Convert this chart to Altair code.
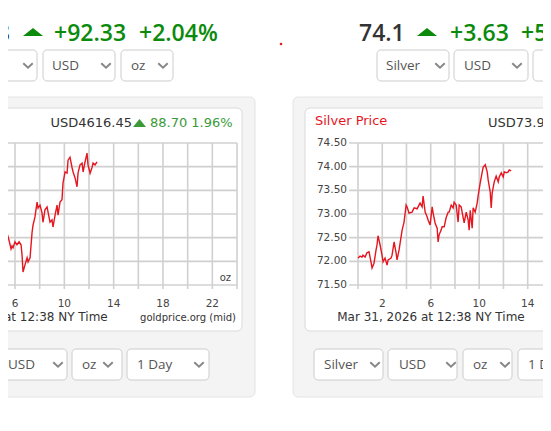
import altair as alt
import pandas as pd

# ---------------- data ----------------
gold_hours = [4.79, 5.03, 5.27, 5.35, 5.51, 5.68, 5.76, 5.84, 6.00, 6.16, 6.33, 6.49,
              6.57, 6.65, 6.81, 6.98, 7.06, 7.22, 7.38, 7.46, 7.62, 7.79, 7.87, 8.03,
              8.19, 8.27, 8.43, 8.60, 8.68, 8.84, 9.00, 9.08, 9.25, 9.41, 9.49, 9.65,
              9.81, 9.89, 10.06, 10.22, 10.30, 10.46, 10.62, 10.71, 10.87, 11.03, 11.11,
              11.27, 11.44, 11.52, 11.68, 11.84, 11.92, 12.09, 12.25, 12.33, 12.49, 12.65]
gold_prices = [4511, 4508, 4506, 4498, 4486, 4471, 4476, 4473, 4483, 4478, 4483, 4478,
               4461, 4432, 4444, 4456, 4449, 4456, 4498, 4511, 4525, 4550, 4540, 4545,
               4532, 4516, 4537, 4542, 4533, 4516, 4520, 4508, 4528, 4545, 4528, 4550,
               4554, 4582, 4601, 4599, 4621, 4626, 4609, 4601, 4591, 4576, 4599,
               4613, 4616, 4601, 4618, 4633, 4613, 4599, 4609, 4616, 4613, 4618]

silver_hours = [0.00, 0.17, 0.33, 0.41, 0.58, 0.74, 0.91, 1.07, 1.16, 1.32, 1.49, 1.57,
                1.65, 1.82, 1.98, 2.07, 2.23, 2.40, 2.48, 2.73, 2.81, 2.98, 3.14, 3.22,
                3.39, 3.55, 3.64, 3.80, 3.97, 4.05, 4.21, 4.46, 4.63, 4.88, 4.96, 5.12,
                5.29, 5.37, 5.54, 5.70, 5.79, 5.95, 6.12, 6.20, 6.36, 6.53, 6.61, 6.69,
                6.86, 6.94, 7.11, 7.27, 7.44, 7.52, 7.69, 7.85, 7.93, 8.10, 8.26, 8.35,
                8.51, 8.68, 8.76, 8.93, 9.09, 9.17, 9.26, 9.42, 9.50, 9.67, 9.83, 9.92,
                10.08, 10.25, 10.33, 10.50, 10.66, 10.74, 10.91, 10.99, 11.07, 11.24,
                11.40, 11.57, 11.65, 11.82, 11.98, 12.07, 12.23, 12.40, 12.48, 12.64]
silver_prices = [72.07, 72.11, 72.09, 72.13, 72.09, 72.18, 72.20, 71.99, 71.86, 71.96,
                 72.24, 72.35, 72.54, 72.35, 72.13, 71.99, 72.07, 71.92, 72.03, 72.07,
                 72.13, 72.41, 72.18, 72.03, 72.24, 72.51, 72.66, 72.83, 73.19, 73.15,
                 73.02, 73.04, 73.13, 73.11, 73.15, 73.23, 73.15, 73.38, 73.04, 72.94,
                 72.87, 72.77, 73.15, 73.02, 72.81, 72.70, 72.41, 72.56, 72.66, 72.73,
                 72.73, 72.92, 73.04, 73.04, 73.19, 73.13, 73.25, 73.19, 72.83, 73.19,
                 73.15, 72.92, 72.81, 73.04, 72.87, 72.66, 73.08, 72.70, 73.13, 73.04,
                 73.23, 73.40, 73.65, 73.89, 73.99, 74.04, 73.89, 73.72, 73.46, 73.13,
                 73.44, 73.68, 73.80, 73.68, 73.78, 73.87, 73.78, 73.89, 73.87, 73.89,
                 73.93, 73.91]

grid_hours = [0, 2, 4, 6, 8, 10, 12, 14, 16, 18, 20, 22, 24]
label_hours = [2, 6, 10, 14, 18, 22]
gold_grid_prices = [4410, 4450, 4490, 4530, 4570, 4610, 4650]
silver_grid_prices = [71.5, 72.0, 72.5, 73.0, 73.5, 74.0, 74.5]
silver_grid_labels = ["71.50", "72.00", "72.50", "73.00", "73.50", "74.00", "74.50"]

date_text = "Mar 31, 2026 at 12:38 NY Time"

# ---------------- layout (screen pixels; page margin is 8px) ----------------
M = 8
W, H = 535, 415
CHART_FONT = "DejaVu Sans"
UI_FONT = "Open Sans"
RED = "#e5161f"
GREEN = "#0c8a0c"
LIGHT_GREEN = "#3a9a3a"
GRID = "#d0d0d0"

gold_x = alt.Scale(domain=[0, 24], range=[-59 - M, 237 - M], nice=False)
silver_x = alt.Scale(domain=[0, 24], range=[358 - M, 358 + 24 * 12.12 - M], nice=False)
gold_y = alt.Scale(domain=[4410, 4650], range=[285 - M, 143 - M], nice=False, zero=False)
silver_y = alt.Scale(domain=[71.5, 74.5], range=[285 - M, 143 - M], nice=False, zero=False)

panels = pd.DataFrame([
    dict(x1=-130, x2=255, y1=97, y2=397, fill="#f4f4f4", stroke="#e4e4e4"),
    dict(x1=293, x2=680, y1=97, y2=397, fill="#f4f4f4", stroke="#e4e4e4"),
    dict(x1=-112, x2=242, y1=108, y2=331, fill="#ffffff", stroke="#dadada"),
    dict(x1=305, x2=659, y1=108, y2=331, fill="#ffffff", stroke="#dadada"),
])
for c in ["x1", "x2", "y1", "y2"]:
    panels[c] -= M

dropdowns = pd.DataFrame([
    dict(x1=-30, x2=37, y1=50, y2=81, label="", tx=-20, cx=28),
    dict(x1=43, x2=115, y1=50, y2=81, label="USD", tx=52, cx=106),
    dict(x1=121, x2=173, y1=50, y2=81, label="oz", tx=131, cx=163),
    dict(x1=377, x2=449, y1=50, y2=81, label="Silver", tx=386, cx=440),
    dict(x1=454, x2=528, y1=50, y2=81, label="USD", tx=464, cx=517),
    dict(x1=533, x2=585, y1=50, y2=81, label="oz", tx=543, cx=575),
    dict(x1=-5, x2=67, y1=349, y2=380, label="USD", tx=8, cx=58),
    dict(x1=72, x2=122, y1=349, y2=380, label="oz", tx=82, cx=108),
    dict(x1=127, x2=209, y1=349, y2=380, label="1 Day", tx=137, cx=199),
    dict(x1=314, x2=383, y1=349, y2=380, label="Silver", tx=324, cx=375),
    dict(x1=388, x2=457, y1=349, y2=380, label="USD", tx=399, cx=451),
    dict(x1=463, x2=512, y1=349, y2=380, label="oz", tx=473, cx=505),
    dict(x1=518, x2=600, y1=349, y2=380, label="1 Day", tx=528, cx=590),
])
for c in ["x1", "x2", "tx", "cx", "y1", "y2"]:
    dropdowns[c] -= M
dropdowns["yc"] = (dropdowns["y1"] + dropdowns["y2"]) / 2

panel_layer = alt.Chart(panels).mark_rect(cornerRadius=5, strokeWidth=1).encode(
    x=alt.X("x1:Q", scale=None), x2="x2:Q",
    y=alt.Y("y1:Q", scale=None), y2="y2:Q",
    fill=alt.Fill("fill:N", scale=None),
    stroke=alt.Stroke("stroke:N", scale=None),
)

dd = alt.Chart(dropdowns)
dd_box = dd.mark_rect(cornerRadius=4, fill="white", stroke="#cccccc", strokeWidth=1).encode(
    x=alt.X("x1:Q", scale=None), x2="x2:Q",
    y=alt.Y("y1:Q", scale=None), y2="y2:Q",
)
dd_text = dd.transform_filter("datum.label != ''").mark_text(
    align="left", baseline="middle", font=UI_FONT, fontSize=13.5, color="#555555").encode(
    x=alt.X("tx:Q", scale=None), y=alt.Y("yc:Q", scale=None), text="label:N")
dd_chev = dd.mark_point(shape="M-1,-0.45L0,0.45L1,-0.45", filled=False, size=90,
                        stroke="#555555", strokeWidth=2).encode(
    x=alt.X("cx:Q", scale=None), y=alt.Y("yc:Q", scale=None))

one = pd.DataFrame({"a": [0]})


def txt(s, x, y, size, color, align="left", font=CHART_FONT, weight="normal", baseline="alphabetic"):
    return alt.Chart(one).mark_text(
        text=s, align=align, baseline=baseline, font=font, fontSize=size,
        color=color, fontWeight=weight,
    ).encode(x=alt.value(x - M), y=alt.value(y - M))


def tri(x, y, w, color, flat=0.4):
    path = f"M-1,{flat}L1,{flat}L0,{-flat}Z"
    return alt.Chart(one).mark_point(shape=path, filled=True, size=w * w, color=color,
                                     opacity=1, strokeWidth=0).encode(
        x=alt.value(x - M), y=alt.value(y - M))


HS = 23
headline = [
    txt("4618.28", 10, 41, HS, "#333333", align="right", font=UI_FONT, weight=600),
    tri(33, 32, 20, GREEN),
    txt("+92.33", 54, 41, HS, GREEN, font=UI_FONT, weight=600),
    txt("+2.04%", 139, 41, HS, GREEN, font=UI_FONT, weight=600),
    txt("74.1", 359, 41, HS, "#333333", font=UI_FONT, weight=600),
    tri(427, 32, 20, GREEN),
    txt("+3.63", 450, 41, HS, GREEN, font=UI_FONT, weight=600),
    txt("+5.15%", 521, 41, HS, GREEN, font=UI_FONT, weight=600),
]
red_dot = alt.Chart(one).mark_circle(size=7, color="#e02020", opacity=1).encode(
    x=alt.value(281 - M), y=alt.value(44 - M))

chart_headers = [
    txt("USD4616.45", 132, 127, 13, "#333333", align="right"),
    tri(139.5, 123, 13, LIGHT_GREEN, flat=0.6),
    txt("88.70 1.96%", 150, 127, 13, LIGHT_GREEN),
    txt("Silver Price", 315, 125, 13, RED),
    txt("USD73.91", 488, 127, 13, "#333333"),
    txt(date_text, 14, 321, 12, "#333333", align="center"),
    txt(date_text, 431, 321, 12, "#333333", align="center"),
    txt("goldprice.org (mid)", 236, 321, 10, "#333333", align="right"),
    txt("oz", 231, 278, 10, "#444444", align="right", baseline="middle"),
]


def plot_layers(hours, prices, grid_prices, xs, ys, ylabels=None):
    vgrid = pd.DataFrame({"hour": grid_hours, "top": [grid_prices[-1]] * len(grid_hours)})
    hgrid = pd.DataFrame({"price": grid_prices, "h0": [-0.73] * len(grid_prices),
                          "h1": [24] * len(grid_prices)})
    labels = pd.DataFrame({"hour": label_hours, "lab": [str(h) for h in label_hours]})
    series = pd.DataFrame({"hour": hours, "price": prices})
    layers = [
        alt.Chart(hgrid).mark_rule(color=GRID, strokeWidth=1.6).encode(
            x=alt.X("h0:Q", scale=xs, axis=None), x2="h1:Q",
            y=alt.Y("price:Q", scale=ys, axis=None)),
        alt.Chart(vgrid).mark_rule(color=GRID, strokeWidth=1.6).encode(
            x=alt.X("hour:Q", scale=xs, axis=None),
            y=alt.Y("top:Q", scale=ys, axis=None), y2=alt.value(289 - M)),
        alt.Chart(labels).mark_text(font=CHART_FONT, fontSize=10.5, color="#444444",
                                    baseline="alphabetic").encode(
            x=alt.X("hour:Q", scale=xs, axis=None), y=alt.value(307 - M), text="lab:N"),
        alt.Chart(series).mark_line(color=RED, strokeWidth=1.4).encode(
            x=alt.X("hour:Q", scale=xs, axis=None),
            y=alt.Y("price:Q", scale=ys, axis=None)),
    ]
    if ylabels is not None:
        yl = pd.DataFrame({"price": grid_prices, "lab": ylabels})
        layers.append(alt.Chart(yl).mark_text(font=CHART_FONT, fontSize=10.5, color="#444444",
                                              align="right", baseline="middle").encode(
            x=alt.value(347 - M), y=alt.Y("price:Q", scale=ys, axis=None), text="lab:N"))
    return layers


layers = ([panel_layer, dd_box, dd_text, dd_chev] + headline + [red_dot] + chart_headers
          + plot_layers(gold_hours, gold_prices, gold_grid_prices, gold_x, gold_y)
          + plot_layers(silver_hours, silver_prices, silver_grid_prices, silver_x, silver_y,
                        silver_grid_labels))

chart = alt.layer(*layers).resolve_scale(x="independent", y="independent").properties(
    width=W, height=H, autosize=alt.AutoSizeParams(type="none"), padding=0,
    background="white",
).configure_view(stroke=None)

chart.save("out.html", embed_options={"renderer": "svg", "actions": False})
